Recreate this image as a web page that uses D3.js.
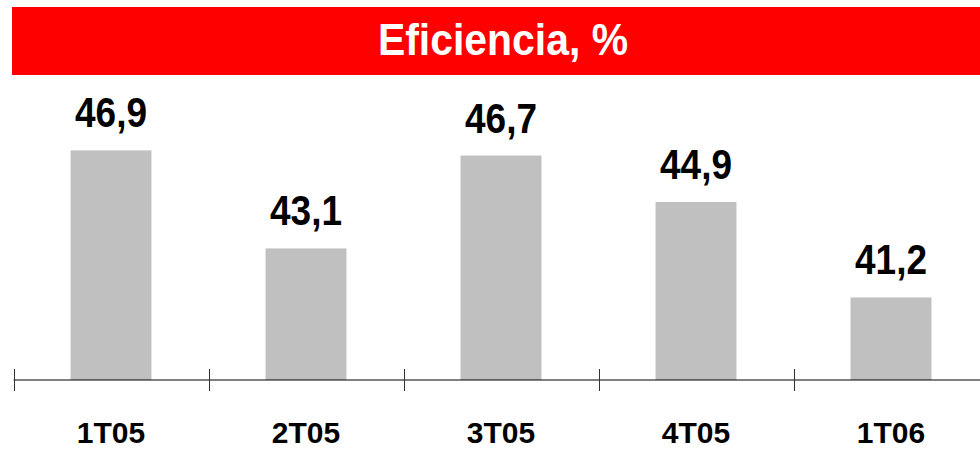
<!DOCTYPE html>
<html>
<head>
<meta charset="utf-8">
<script src="https://cdn.jsdelivr.net/npm/d3@7"></script>
<style>
  body { margin: 0; background: #fff; }
  svg text { font-family: "Liberation Sans", Arial, sans-serif; font-weight: bold; }
</style>
</head>
<body>
<svg id="chart" width="980" height="450"></svg>
<script>
// data
const quarters = ['1T05', '2T05', '3T05', '4T05', '1T06']
const efficiency = [46.9, 43.1, 46.7, 44.9, 41.2]
const title = 'Eficiencia, %'

const svg = d3.select('#chart')
const W = 980
const baseY = 380

// title banner
svg.append('rect')
  .attr('x', 12).attr('y', 7)
  .attr('width', W - 12).attr('height', 68)
  .attr('fill', '#ff0000')

svg.append('text')
  .attr('transform', 'translate(503,55) scale(0.93,1)')
  .attr('text-anchor', 'middle')
  .attr('font-size', 44)
  .attr('fill', '#fff')
  .text(title)

// scales
const x = d3.scaleBand()
  .domain(quarters)
  .range([13.5, 13.5 + 195 * quarters.length])
  .paddingInner(0.585)
  .paddingOuter(0.2925)

const y = d3.scaleLinear()
  .domain([38, 48])
  .range([baseY, baseY - 258])

const data = quarters.map((q, i) => ({ q: q, v: efficiency[i] }))

// bars
svg.selectAll('.bar')
  .data(data)
  .join('rect')
  .attr('class', 'bar')
  .attr('x', d => x(d.q))
  .attr('y', d => y(d.v))
  .attr('width', x.bandwidth())
  .attr('height', d => baseY - y(d.v))
  .attr('fill', '#c0c0c0')

// value labels
svg.selectAll('.val')
  .data(data)
  .join('text')
  .attr('class', 'val')
  .attr('transform', d => 'translate(' + (x(d.q) + x.bandwidth() / 2) + ',' + (y(d.v) - 23) + ') scale(0.88,1)')
  .attr('text-anchor', 'middle')
  .attr('font-size', 42)
  .attr('fill', '#000')
  .text(d => d3.format('.1f')(d.v).replace('.', ','))

// axis line with ticks on the category boundaries
const gap = (x.step() - x.bandwidth()) / 2
svg.append('line')
  .attr('x1', 13.5).attr('x2', W)
  .attr('y1', baseY).attr('y2', baseY)
  .attr('stroke', '#000').attr('stroke-width', 1)

svg.selectAll('.tick')
  .data(quarters)
  .join('line')
  .attr('class', 'tick')
  .attr('x1', d => Math.round(x(d) - gap) + 0.5)
  .attr('x2', d => Math.round(x(d) - gap) + 0.5)
  .attr('y1', baseY - 11).attr('y2', baseY + 11)
  .attr('stroke', '#333').attr('stroke-width', 1)

// category labels
svg.selectAll('.cat')
  .data(quarters)
  .join('text')
  .attr('class', 'cat')
  .attr('x', d => x(d) + x.bandwidth() / 2)
  .attr('y', 443)
  .attr('text-anchor', 'middle')
  .attr('font-size', 30)
  .attr('fill', '#000')
  .text(d => d)
</script>
</body>
</html>
